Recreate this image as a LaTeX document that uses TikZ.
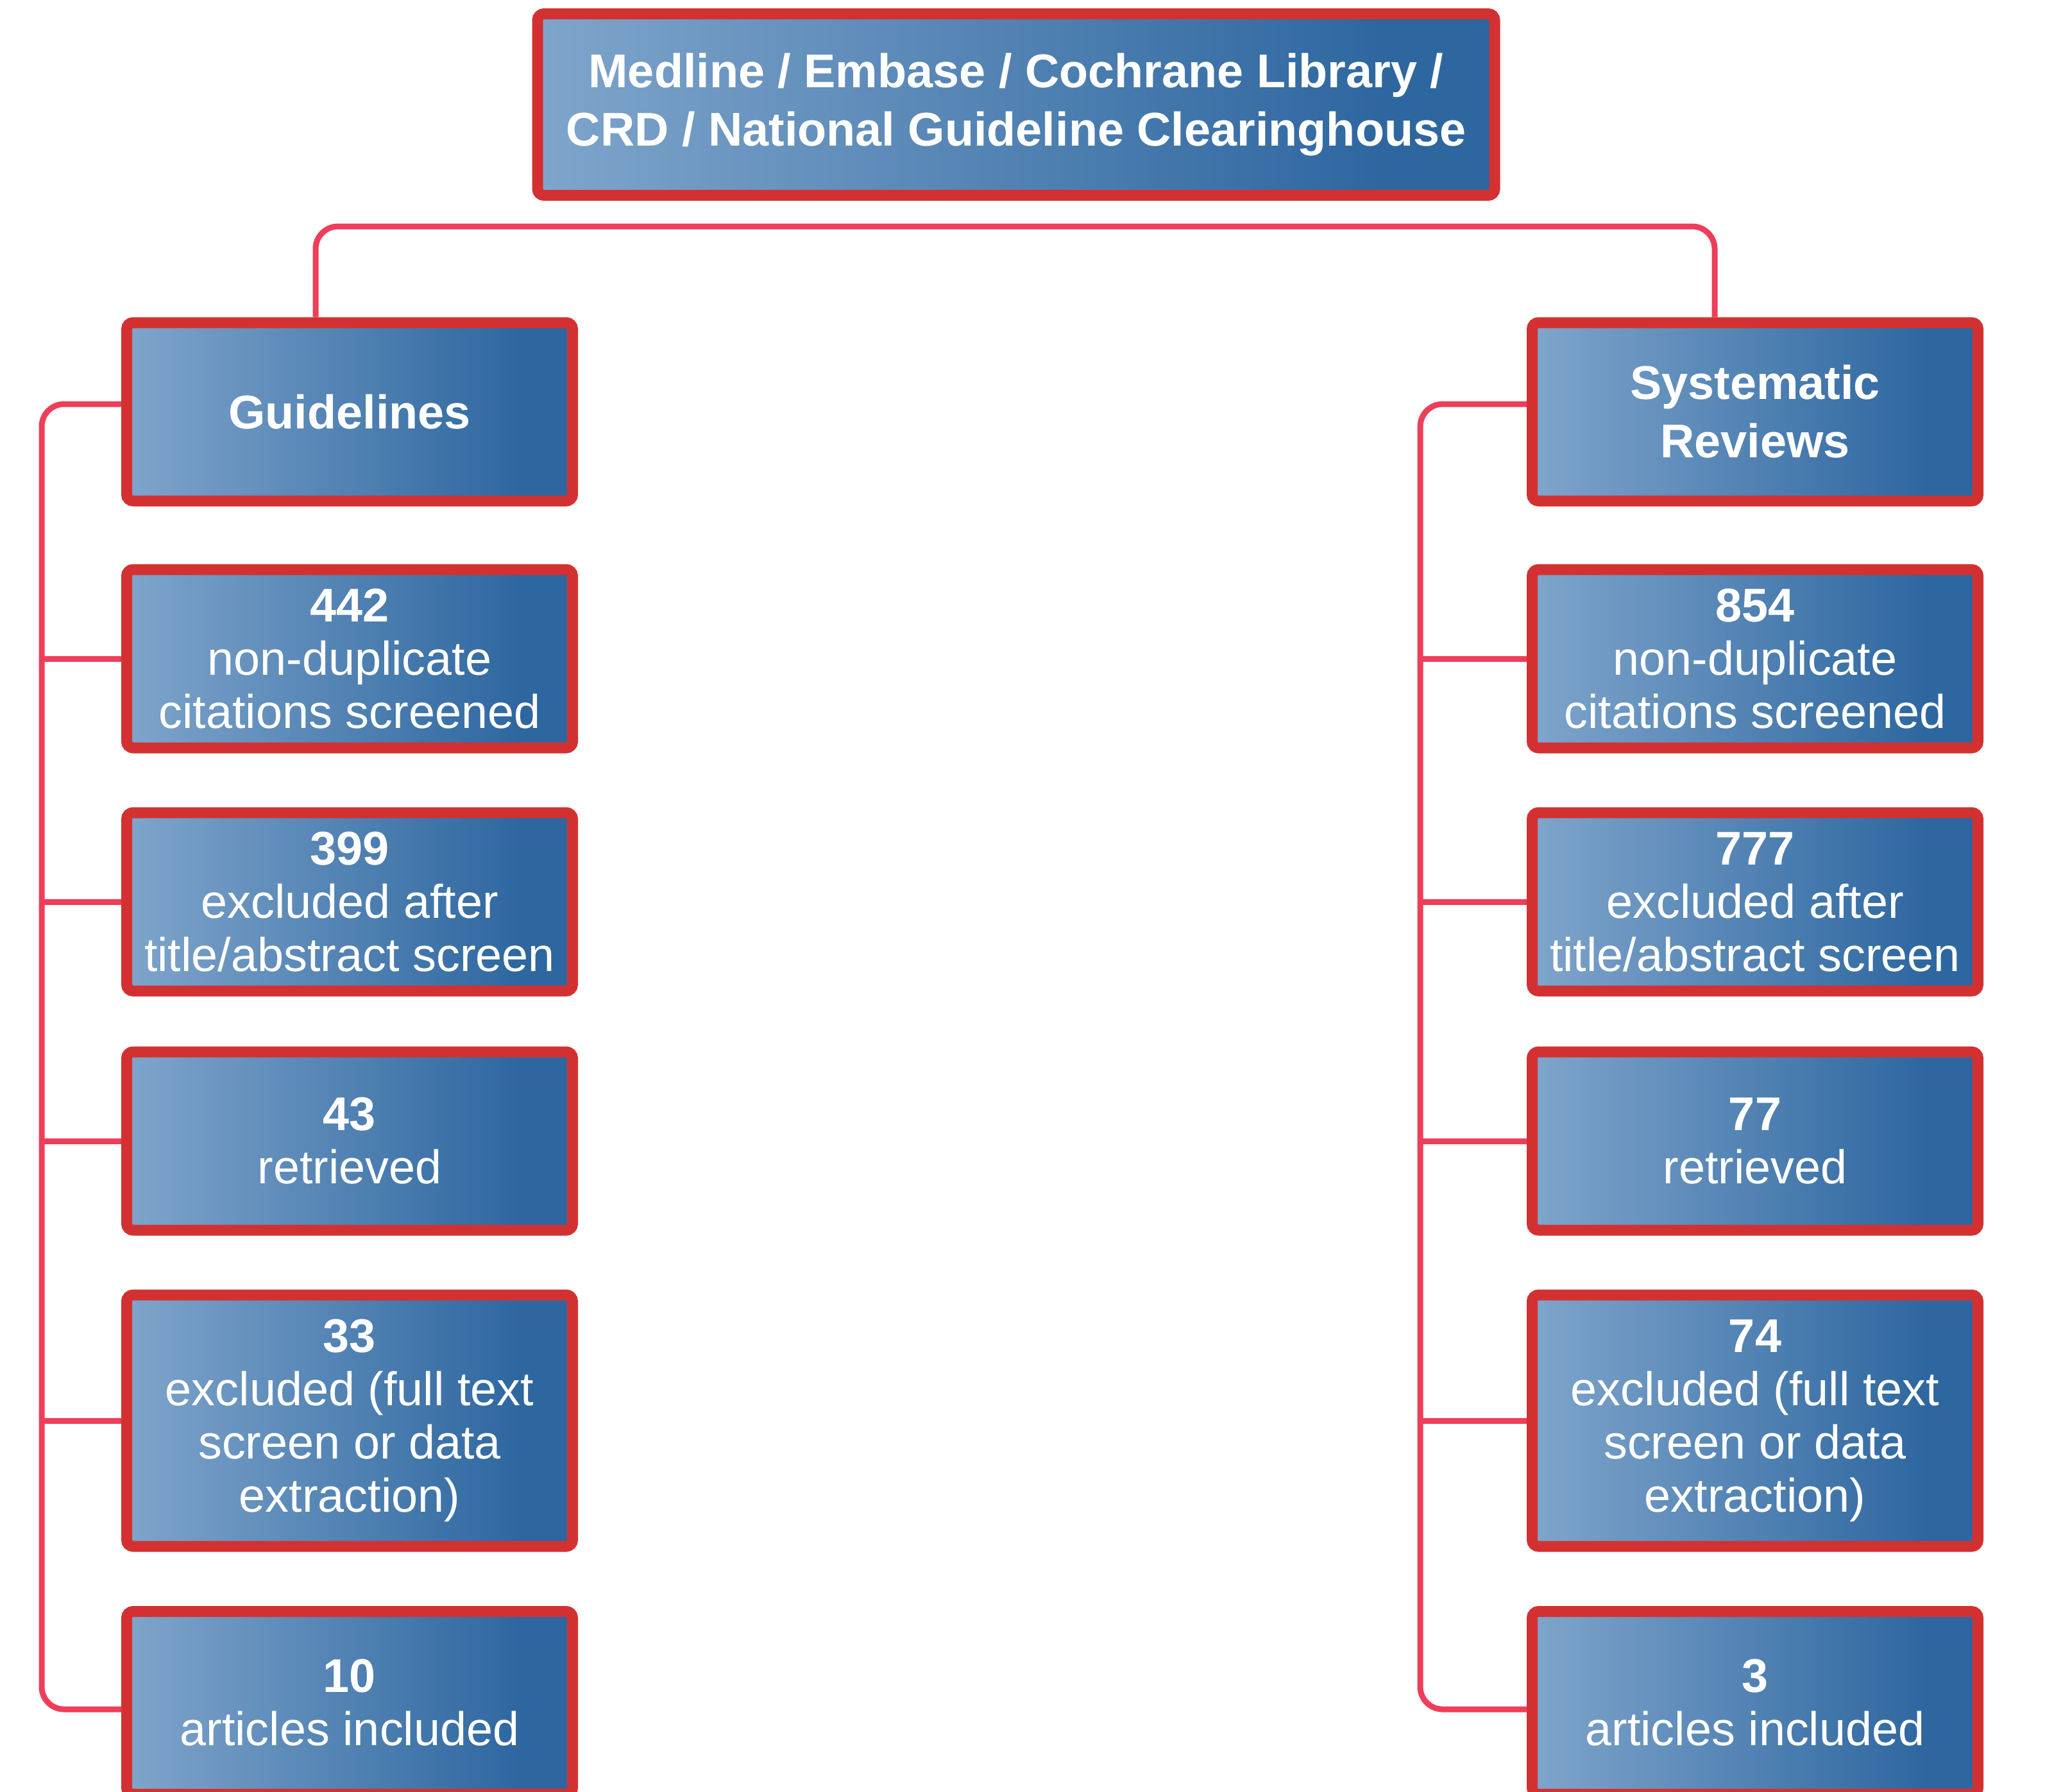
\documentclass[tikz,border=0pt]{standalone}
\usepackage{fontspec}
\setmainfont{Liberation Sans}

\definecolor{boxred}{HTML}{D33131}
\definecolor{linkred}{HTML}{EE3E5A}
\definecolor{boxlight}{HTML}{7FA5CB}
\definecolor{boxdark}{HTML}{2E67A0}

\pgfdeclarehorizontalshading{boxfill}{100bp}{color(0bp)=(boxlight); color(25bp)=(boxlight); color(69bp)=(boxdark); color(100bp)=(boxdark)}

\tikzset{
  box/.style={draw=boxred, line width=1.7mm, rounded corners=1mm, shading=boxfill,
    text=white, align=center, inner sep=0pt, minimum width=6.95cm, minimum height=2.78cm,
    font=\fontsize{21}{23.6}\selectfont},
  headbox/.style={box, font=\bfseries\fontsize{21}{25.9}\selectfont},
  link/.style={draw=linkred, line width=0.9mm, rounded corners=3.5mm},
}

\begin{document}
\begin{tikzpicture}

  \useasboundingbox (0,0) rectangle (31.88,-27.93);

  % Column positions
  \def\gx{5.45}
  \def\sx{27.36}

  % Sources
  \node[headbox, minimum width=14.92cm, minimum height=2.83cm] (src) at (15.84,-1.63)
    {Medline / Embase / Cochrane Library /\\CRD / National Guideline Clearinghouse};

  % Guidelines column
  \node[headbox] (gl) at (\gx,-6.42) {Guidelines};
  \node[box] (gsc) at (\gx,-10.27) {\textbf{442}\\non-duplicate\\citations screened};
  \node[box] (gex) at (\gx,-14.06) {\textbf{399}\\excluded after\\title/abstract screen};
  \node[box] (gret) at (\gx,-17.79) {\textbf{43}\\retrieved};
  \node[box, minimum height=3.92cm] (gft) at (\gx,-22.15) {\textbf{33}\\excluded (full text\\screen or data\\extraction)};
  \node[box, minimum height=2.85cm] (gin) at (\gx,-26.55) {\textbf{10}\\articles included};

  % Systematic reviews column
  \node[headbox] (sr) at (\sx,-6.42) {Systematic\\Reviews};
  \node[box] (ssc) at (\sx,-10.27) {\textbf{854}\\non-duplicate\\citations screened};
  \node[box] (sex) at (\sx,-14.06) {\textbf{777}\\excluded after\\title/abstract screen};
  \node[box] (sret) at (\sx,-17.79) {\textbf{77}\\retrieved};
  \node[box, minimum height=3.92cm] (sft) at (\sx,-22.15) {\textbf{74}\\excluded (full text\\screen or data\\extraction)};
  \node[box, minimum height=2.85cm] (sin) at (\sx,-26.55) {\textbf{3}\\articles included};

  % Top bar
  \coordinate (bar) at (15.84,-3.53);
  \draw[link] ([xshift=-5.3mm]gl.north) |- (bar) -| ([xshift=-6.3mm]sr.north);

  % Stems
  \coordinate (gstem) at (0.65,-15);
  \coordinate (sstem) at (22.14,-15);
  \draw[link] ([yshift=1.2mm]gl.west) -| (gstem) |- ([yshift=-1mm]gin.west);
  \draw[link] ([yshift=1.2mm]sr.west) -| (sstem) |- ([yshift=-1mm]sin.west);
  \foreach \n in {gsc,gex,gret,gft}
    \draw[link] (gstem |- \n.west) -- (\n.west);
  \foreach \n in {ssc,sex,sret,sft}
    \draw[link] (sstem |- \n.west) -- (\n.west);

\end{tikzpicture}
\end{document}
